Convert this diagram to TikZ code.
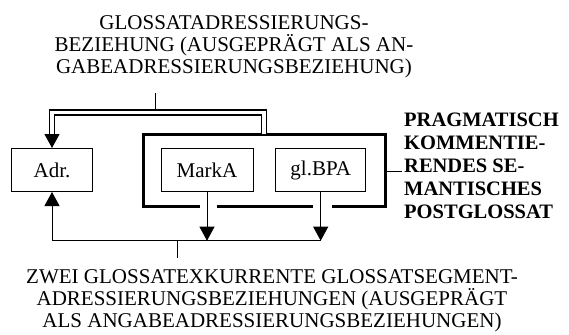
\documentclass[tikz,border=0pt]{standalone}
\usepackage{fontspec}
\setmainfont{Liberation Serif}
\usetikzlibrary{arrows.meta, positioning}

\begin{document}
\begin{tikzpicture}[
        x=1pt, y=-1pt,
        caption/.style={align=center, inner sep=0pt, font=\fontsize{21}{22}\selectfont},
        tag/.style={align=left, inner sep=0pt, font=\fontsize{20.5}{23}\selectfont\bfseries},
        unit/.style={rectangle, draw, line width=1pt, minimum width=90pt, minimum height=43pt, font=\fontsize{21}{22}\selectfont},
        hull/.style={line width=3pt},
        relline/.style={line width=1pt},
        dbl/.style={double, double distance=3.8pt, line width=1.2pt},
        arrowline/.style={-{Triangle[length=14pt, width=15pt]}}
    ]
        \useasboundingbox (0,0) rectangle (569,334);

        % texts
        \node[caption] (upper) at (234,47) {GLOSSATADRESSIERUNGS-\\BEZIEHUNG (AUSGEPRÄGT ALS AN-\\GABEADRESSIERUNGSBEZIEHUNG)};
        \node[caption] (lower) at (272,301) {ZWEI GLOSSATEXKURRENTE GLOSSATSEGMENT-\\ADRESSIERUNGSBEZIEHUNGEN (AUSGEPRÄGT\\ALS ANGABEADRESSIERUNGSBEZIEHUNGEN)};
        \node[tag, anchor=west] (psg) at (404,166) {PRAGMATISCH\\KOMMENTIE-\\RENDES SE-\\MANTISCHES\\POSTGLOSSAT};

        % boxes
        \node[unit, minimum width=81pt] (adr) at (52,170) {Adr.};
        \node[unit, minimum width=92pt] (marka) at (207,170) {MarkA};
        \node[unit] (glbpa) at (320.7,170) {gl.BPA};

        % thick frame round MarkA and gl.BPA, open where the arrows leave
        \draw[hull] (200,206) -| (143.3,134.3) -| (385,206) -- (331.7,206);
        \draw[hull] (216.7,206) -- (313.3,206);
        \coordinate (hullE) at (385,171);
        \draw[relline, shorten >=2pt] (hullE) -- (hullE -| psg.west);

        % upper relation (double line)
        \coordinate (upfoot) at (155,93);
        \coordinate (upjoin) at (155,110);
        \draw[relline] (upfoot) -- (upjoin);
        \coordinate (dblstart) at (264.2,134.3);
        \coordinate (dblbend) at (adr.north |- 0,112.5);
        \draw[dbl, arrowline] (dblstart) |- (dblbend) -- (adr.north);

        % lower relations
        \coordinate (busL) at (adr.south |- 0,240.7);
        \coordinate (busR) at (glbpa.south |- busL);
        \coordinate (lowjoin) at (177.7,240.7);
        \coordinate (lowfoot) at (177.7,258);
        \draw[relline] (busL) -- (busR);
        \draw[relline, arrowline] (busL) -- (adr.south);
        \draw[line width=0.8pt, arrowline] (marka.south) -- (marka.south |- busL);
        \draw[line width=0.8pt, arrowline] (glbpa.south) -- (busR);
        \draw[relline] (lowjoin) -- (lowfoot);
    \end{tikzpicture}
\end{document}
